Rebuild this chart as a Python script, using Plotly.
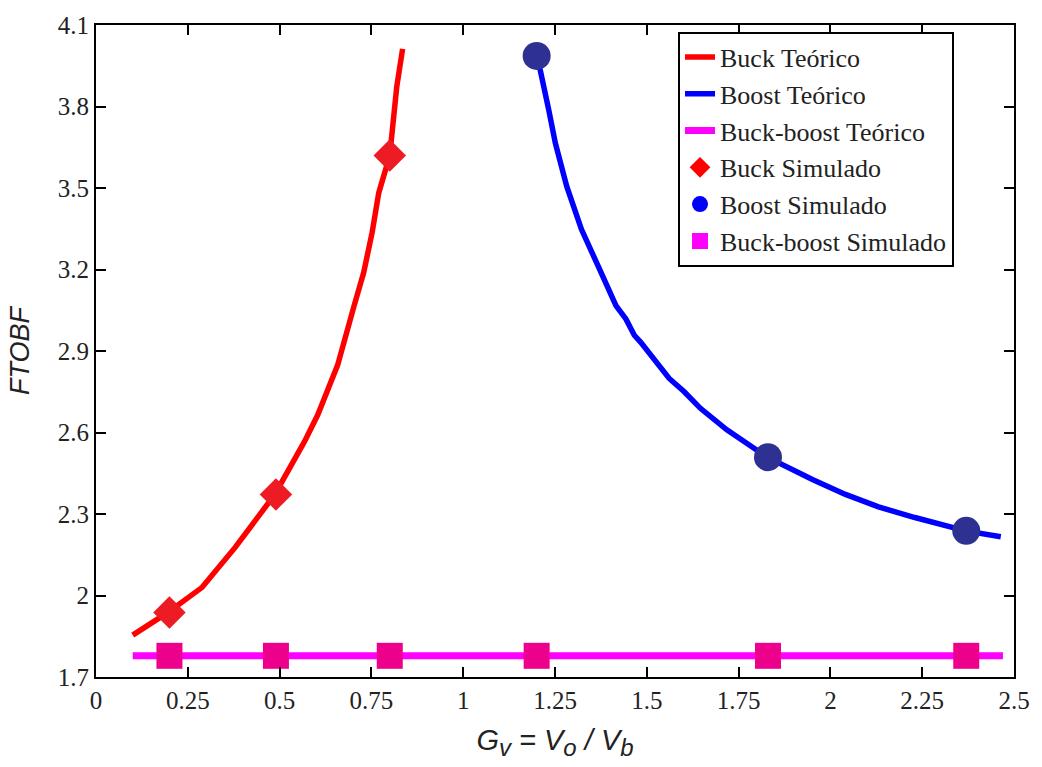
import plotly.graph_objects as go

# Theoretical curves (FTOBF vs. voltage gain)
buck_gv = [0.10, 0.195, 0.289, 0.379, 0.487, 0.568, 0.604, 0.640, 0.658, 0.703,
           0.729, 0.752, 0.770, 0.800, 0.806, 0.819, 0.835]
buck_ftobf = [1.854, 1.937, 2.030, 2.177, 2.372, 2.567, 2.665, 2.787, 2.848, 3.067,
              3.189, 3.336, 3.482, 3.620, 3.714, 3.872, 4.012]

boost_gv = [1.200, 1.210, 1.233, 1.251, 1.282, 1.322, 1.367, 1.416, 1.443, 1.466,
            1.483, 1.519, 1.561, 1.602, 1.646, 1.718, 1.763, 1.828, 1.951, 2.041,
            2.131, 2.230, 2.368, 2.464]
boost_ftobf = [3.986, 3.933, 3.787, 3.665, 3.506, 3.348, 3.214, 3.067, 3.018, 2.958,
               2.933, 2.872, 2.799, 2.750, 2.689, 2.610, 2.567, 2.509, 2.427, 2.372,
               2.326, 2.287, 2.238, 2.216]

buckboost_gv = [0.10, 2.47]
buckboost_ftobf = [1.778, 1.778]

# Simulated operating points
buck_sim_gv = [0.2, 0.49, 0.8]
buck_sim_ftobf = [1.937, 2.372, 3.620]
boost_sim_gv = [1.2, 1.83, 2.37]
boost_sim_ftobf = [3.986, 2.509, 2.238]
bb_sim_gv = [0.2, 0.49, 0.8, 1.2, 1.83, 2.37]
bb_sim_ftobf = [1.778, 1.778, 1.778, 1.778, 1.778, 1.778]

x_ticks = [0, 0.25, 0.5, 0.75, 1, 1.25, 1.5, 1.75, 2, 2.25, 2.5]
x_tick_text = ["0", "0.25", "0.5", "0.75", "1", "1.25", "1.5", "1.75", "2", "2.25", "2.5"]
y_ticks = [1.7, 2.0, 2.3, 2.6, 2.9, 3.2, 3.5, 3.8, 4.1]
y_tick_text = ["1.7", "2", "2.3", "2.6", "2.9", "3.2", "3.5", "3.8", "4.1"]

fig = go.Figure()

fig.add_trace(go.Scatter(x=buck_gv, y=buck_ftobf, mode="lines",
                         line=dict(color="#FF0000", width=5.5), name="Buck Teórico"))
fig.add_trace(go.Scatter(x=boost_gv, y=boost_ftobf, mode="lines",
                         line=dict(color="#0000FF", width=5.5), name="Boost Teórico"))
fig.add_trace(go.Scatter(x=buckboost_gv, y=buckboost_ftobf, mode="lines",
                         line=dict(color="#FF00FF", width=7), name="Buck-boost Teórico"))

# Simulated markers (drawn without legend entries)
fig.add_trace(go.Scatter(x=buck_sim_gv, y=buck_sim_ftobf, mode="markers",
                         marker=dict(symbol="diamond", size=25, color="#ED1C24"),
                         showlegend=False))
fig.add_trace(go.Scatter(x=boost_sim_gv, y=boost_sim_ftobf, mode="markers",
                         marker=dict(symbol="circle", size=28, color="#2E3192"),
                         showlegend=False))
fig.add_trace(go.Scatter(x=bb_sim_gv, y=bb_sim_ftobf, mode="markers",
                         marker=dict(symbol="square", size=26, color="#EC008C"),
                         showlegend=False))

# Legend entries for the simulated series
fig.add_trace(go.Scatter(x=[None], y=[None], mode="markers",
                         marker=dict(symbol="diamond", size=18, color="#FF0000"),
                         name="Buck Simulado"))
fig.add_trace(go.Scatter(x=[None], y=[None], mode="markers",
                         marker=dict(symbol="circle", size=24, color="#0000FF"),
                         name="Boost Simulado"))
fig.add_trace(go.Scatter(x=[None], y=[None], mode="markers",
                         marker=dict(symbol="square", size=22, color="#FF00FF"),
                         name="Buck-boost Simulado"))

axis_common = dict(
    showgrid=False, zeroline=False, showline=True, linecolor="black", linewidth=2,
    mirror="ticks", ticks="inside", ticklen=10, tickwidth=2, tickcolor="black",
    tickfont=dict(family="Liberation Serif", size=25, color="#222222"),
)

sub_style = '<span style="font-size:24px">'
x_title = ("<i>G</i><sub>" + sub_style + "<i>v</i></span></sub>"
           "<i> = V</i><sub>" + sub_style + "<i>o</i></span></sub>"
           "<i> / V</i><sub>" + sub_style + "<i>b</i></span></sub>")

fig.update_layout(
    width=1042, height=767,
    margin=dict(l=96, r=19, t=21, b=90),
    plot_bgcolor="white", paper_bgcolor="white",
    xaxis=dict(range=[0, 2.5], tickvals=x_ticks, ticktext=x_tick_text,
               title=dict(text=x_title,
                          font=dict(family="Liberation Sans", size=29, color="#222222"),
                          standoff=17),
               **axis_common),
    yaxis=dict(range=[1.7, 4.1], tickvals=y_ticks, ticktext=y_tick_text,
               title=dict(text="<i>FTOBF</i>",
                          font=dict(family="Liberation Sans", size=27, color="#222222"),
                          standoff=20),
               **axis_common),
    legend=dict(x=0.634, y=0.99, xanchor="left", yanchor="top",
                bgcolor="white", bordercolor="black", borderwidth=2,
                font=dict(family="Liberation Serif", size=26, color="#222222"),
                tracegroupgap=0),
    showlegend=True,
)

fig.write_html("out.html")
